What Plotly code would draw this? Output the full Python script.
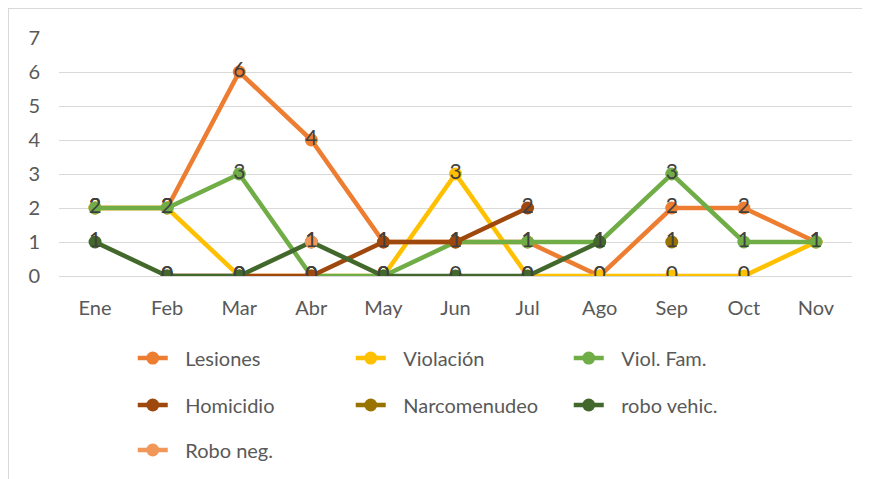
import plotly.graph_objects as go

# months (categories)
meses = ['Ene', 'Feb', 'Mar', 'Abr', 'May', 'Jun', 'Jul', 'Ago', 'Sep', 'Oct', 'Nov']

# series values (None = no data)
lesiones = [2, 2, 6, 4, 1, 1, 1, 0, 2, 2, 1]
violacion = [2, 2, 0, 0, 0, 3, 0, 0, 0, 0, 1]
viol_fam = [2, 2, 3, 0, 0, 1, 1, 1, 3, 1, 1]
homicidio = [None, 0, 0, 0, 1, 1, 2, None, None, None, None]
narcomenudeo = [None, None, None, None, None, None, None, None, 1, None, None]
robo_vehic = [1, 0, 0, 1, 0, 0, 0, 1, None, None, None]
robo_neg = [None, None, None, 1, None, None, None, None, None, None, None]

series = [
    ('Lesiones', lesiones, '#ED7D31', 'legend'),
    ('Violación', violacion, '#FFC000', 'legend'),
    ('Viol. Fam.', viol_fam, '#70AD47', 'legend'),
    ('Homicidio', homicidio, '#9E480E', 'legend2'),
    ('Narcomenudeo', narcomenudeo, '#997300', 'legend2'),
    ('robo vehic.', robo_vehic, '#43682B', 'legend2'),
    ('Robo neg.', robo_neg, '#F1975A', 'legend3'),
]

font_family = 'Lato, Calibri, sans-serif'

fig = go.Figure()

for name, values, color, leg in series:
    fig.add_trace(go.Scatter(
        x=meses,
        y=values,
        name='\u2002\u2009' + name,
        mode='lines+markers+text',
        text=[None if v is None else str(v) for v in values],
        textposition='middle center',
        textfont=dict(family=font_family, size=21, color='#404040'),
        line=dict(color=color, width=4.5),
        marker=dict(color=color, size=13),
        connectgaps=False,
        legend=leg,
    ))

legend_style = dict(
    orientation='h',
    xanchor='left',
    yanchor='middle',
    x=0.093,
    font=dict(family=font_family, size=20, color='#595959'),
    entrywidth=173,
    entrywidthmode='pixels',
    bgcolor='rgba(0,0,0,0)',
    itemclick=False,
)

# page body adds an 8px offset, so margins are shifted to compensate
fig.update_layout(
    width=870,
    height=479,
    margin=dict(l=51, r=26, t=30, b=211),
    paper_bgcolor='white',
    plot_bgcolor='white',
    font=dict(family=font_family, size=20, color='#595959'),
    showlegend=True,
    legend=dict(legend_style, y=-0.345),
    legend2=dict(legend_style, y=-0.542),
    legend3=dict(legend_style, y=-0.731),
    xaxis=dict(
        type='category',
        range=[-0.5, 10.5],
        showgrid=False,
        showline=False,
        zeroline=False,
        ticks='',
        ticklabelstandoff=18,
        tickfont=dict(family=font_family, size=20, color='#595959'),
    ),
    yaxis=dict(
        range=[0, 7],
        dtick=1,
        showgrid=True,
        gridcolor='#D9D9D9',
        gridwidth=1,
        zeroline=True,
        zerolinecolor='#D9D9D9',
        zerolinewidth=1,
        showline=False,
        ticks='',
        ticklabelstandoff=18,
        tickfont=dict(family=font_family, size=20, color='#595959'),
    ),
    shapes=[dict(
        type='rect', xref='paper', yref='paper',
        x0=-51 / 793, x1=900 / 793, y0=-300 / 238, y1=1 + 30 / 238,
        line=dict(color='#D9D9D9', width=2),
        fillcolor='rgba(0,0,0,0)',
        layer='below',
    )],
)

fig.write_html('out.html')
